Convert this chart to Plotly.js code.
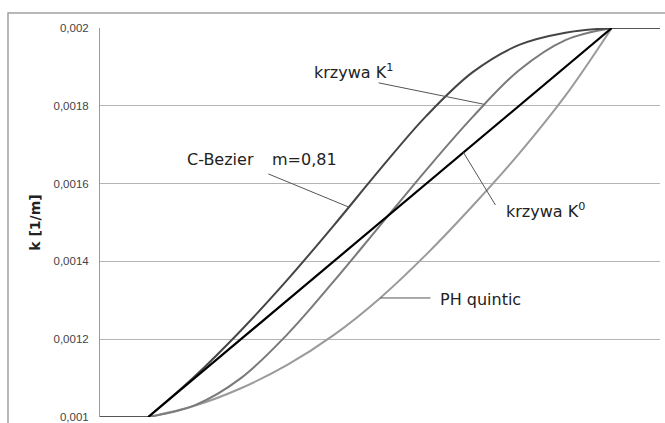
<!DOCTYPE html>
<html>
<head>
<meta charset="utf-8">
<script src="https://cdn.plot.ly/plotly-3.0.1.min.js"></script>
<style>
  html, body { margin: 0; padding: 0; background: #fff; }
  #chart { width: 665px; height: 423px; }
</style>
</head>
<body>
<div id="chart"></div>
<script>
// Parameter along the transition (0 = start, 1 = end); flat lead-in / lead-out outside.
var tFlat = [-0.104, 0, null, 1, 1.104];
var kFlat = [0.001, 0.001, null, 0.002, 0.002];

// Common sampling of the transition
var tCurve = [0, 0.1, 0.2, 0.3, 0.4, 0.5, 0.6, 0.7, 0.8, 0.9, 1];

// C-Bezier m=0,81
var kBezier = [0.001, 0.001104, 0.0012225, 0.0013525, 0.001492, 0.0016365, 0.001774, 0.0018865, 0.0019565, 0.001988, 0.002];

// krzywa K1
var kK1 = [0.001, 0.00103, 0.0011, 0.0012125, 0.0013485, 0.001492, 0.0016355, 0.0017715, 0.0018915, 0.001969, 0.002];

// krzywa K0
var tK0 = [0, 0.5, 1];
var kK0 = [0.001, 0.0015, 0.002];

// PH quintic
var kPH = [0.001, 0.001029, 0.001074, 0.001134, 0.0012105, 0.0013055, 0.001418, 0.001543, 0.001677, 0.001826, 0.002];

// Y ticks
var yTickVals = [0.001, 0.0012, 0.0014, 0.0016, 0.0018, 0.002];
var yTickText = ['0,001', '0,0012', '0,0014', '0,0016', '0,0018', '0,002'];

var cBez = '#454545', cK1 = '#7a7a7a', cK0 = '#000000', cPH = '#9a9a9a';

var traces = [
  {x: tFlat, y: kFlat, mode: 'lines', line: {color: '#555', width: 2}, hoverinfo: 'skip'},
  {x: tCurve, y: kPH, mode: 'lines', name: 'PH quintic', line: {color: cPH, width: 2, shape: 'spline', smoothing: 1}},
  {x: tCurve, y: kK1, mode: 'lines', name: 'krzywa K1', line: {color: cK1, width: 2, shape: 'spline', smoothing: 1}},
  {x: tCurve, y: kBezier, mode: 'lines', name: 'C-Bezier', line: {color: cBez, width: 2, shape: 'spline', smoothing: 1}},
  {x: tK0, y: kK0, mode: 'lines', name: 'krzywa K0', line: {color: cK0, width: 2.2}}
];

var lblFont = {family: 'DejaVu Sans', size: 16, color: '#222'};
function ann(x, y, text) {
  return {x: x, y: y, xref: 'x', yref: 'y', text: text, showarrow: false,
          xanchor: 'left', yanchor: 'middle', font: lblFont};
}
function leader(x0, y0, x1, y1) {
  return {type: 'line', xref: 'x', yref: 'y', x0: x0, y0: y0, x1: x1, y1: y1,
          line: {color: '#555', width: 1}};
}

var layout = {
  width: 665, height: 423,
  margin: {l: 100, r: 5, t: 28, b: 6},
  paper_bgcolor: '#fff', plot_bgcolor: '#fff',
  showlegend: false,
  xaxis: {range: [-0.104, 1.104], showgrid: false, zeroline: false, showticklabels: false,
          showline: false, ticks: ''},
  yaxis: {range: [0.001, 0.002], tickvals: yTickVals, ticktext: yTickText,
          showgrid: true, gridcolor: '#b5b5b5', gridwidth: 1, zeroline: false,
          showline: true, linecolor: '#9a9a9a', linewidth: 1,
          ticks: 'outside', ticklen: 8, tickcolor: 'rgba(0,0,0,0)',
          ticklabeloverflow: 'allow',
          tickfont: {family: 'Liberation Sans', size: 11.5, color: '#444'},
          title: {text: 'k [1/m]', standoff: 9,
                  font: {family: 'DejaVu Sans', size: 14, color: '#222', weight: 'bold'}}},
  shapes: [
    {type: 'rect', xref: 'paper', yref: 'paper', x0: -0.1643, x1: 1.05, y0: -0.2, y1: 1.0386,
     line: {color: '#a0a0a0', width: 1.5}, layer: 'below'},
    leader(0.497, 0.001859, 0.724, 0.001804),
    leader(0.259, 0.001625, 0.432, 0.001540),
    leader(0.749, 0.001545, 0.68, 0.00168),
    leader(0.609, 0.001306, 0.501, 0.001306)
  ],
  annotations: [
    ann(0.354, 0.001887, 'krzywa K<sup>1</sup>'),
    ann(0.080, 0.001663, 'C-Bezier'),
    ann(0.2635, 0.001663, 'm=0,81'),
    ann(0.767, 0.001532, 'krzywa K<sup>0</sup>'),
    ann(0.626, 0.001301, 'PH quintic')
  ]
};

Plotly.newPlot('chart', traces, layout, {staticPlot: true, displayModeBar: false});
</script>
</body>
</html>
